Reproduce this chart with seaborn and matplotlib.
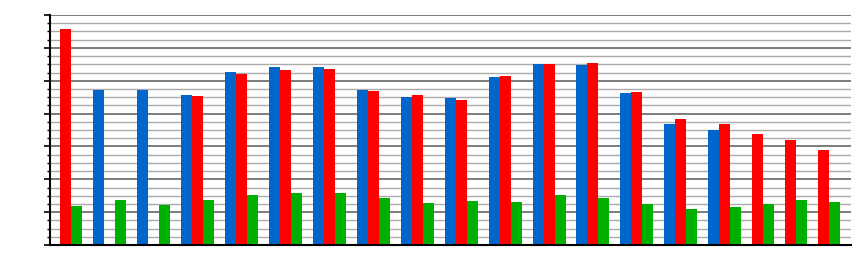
import numpy as np
import pandas as pd
import matplotlib
matplotlib.use("Agg")
import matplotlib.pyplot as plt
from matplotlib.ticker import MultipleLocator, NullFormatter
import seaborn as sns

# ---- data ----
categories = [f"G{i}" for i in range(1, 20)]
blue = [0, 47.3, 47.3, 45.7, 52.7, 54.2, 54.2, 47.3, 45.0, 44.7, 51.1, 55.1, 54.8, 46.3, 36.8, 35.0, None, None, None]
red = [65.7, 0, 0, 45.3, 52.0, 53.3, 53.6, 46.9, 45.6, 44.1, 51.4, 55.1, 55.4, 46.6, 38.3, 36.8, 33.8, 32.0, 28.9]
green = [11.9, 13.7, 12.2, 13.7, 15.2, 15.8, 15.8, 14.3, 12.8, 13.4, 13.1, 15.2, 14.3, 12.5, 11.0, 11.6, 12.5, 13.7, 13.1]
series_names = ["Blue", "Red", "Green"]
colors = {"Blue": "#0066CC", "Red": "#FF0000", "Green": "#00B000"}

# ---- layout: each group takes one slot per present series plus one gap slot ----
rows = []
slot = 0
for i, cat in enumerate(categories):
    for name, vals in zip(series_names, [blue, red, green]):
        v = vals[i]
        if v is None:
            continue
        rows.append({"pos": float(slot), "value": v, "series": name, "category": cat})
        slot += 1
    slot += 1  # gap
total_slots = slot
df = pd.DataFrame(rows)

sns.set_style("white")
fig = plt.figure(figsize=(8.6, 2.6), dpi=100)
ax = fig.add_axes([50 / 860, 1 - 245 / 260, 801 / 860, 230 / 260])

sns.barplot(data=df, x="pos", y="value", hue="series", hue_order=series_names,
            palette=colors, saturation=1, native_scale=True, dodge=False, width=1.0,
            errorbar=None, linewidth=0, legend=False, ax=ax)

ax.set_xlim(-0.45, total_slots - 0.5)
ax.set_ylim(0, 70)
ax.yaxis.set_major_locator(MultipleLocator(10))
ax.yaxis.set_minor_locator(MultipleLocator(2.5))
ax.yaxis.set_major_formatter(NullFormatter())
ax.set_xticks([])
ax.set_xlabel("")
ax.set_ylabel("")
ax.set_axisbelow(True)
ax.grid(True, which="major", axis="y", color="#666666", linewidth=1.2)
ax.grid(True, which="minor", axis="y", color="#aaaaaa", linewidth=1.0)
ax.tick_params(axis="y", which="major", length=4, width=1.2, color="black", left=True)
ax.tick_params(axis="y", which="minor", length=2, width=1.0, color="black", left=True)
for s in ["top", "right"]:
    ax.spines[s].set_visible(False)
ax.spines["left"].set_color("black")
ax.spines["left"].set_linewidth(1.5)
ax.spines["bottom"].set_color("black")
ax.spines["bottom"].set_linewidth(1.5)

fig.savefig("out.png", dpi=100)
